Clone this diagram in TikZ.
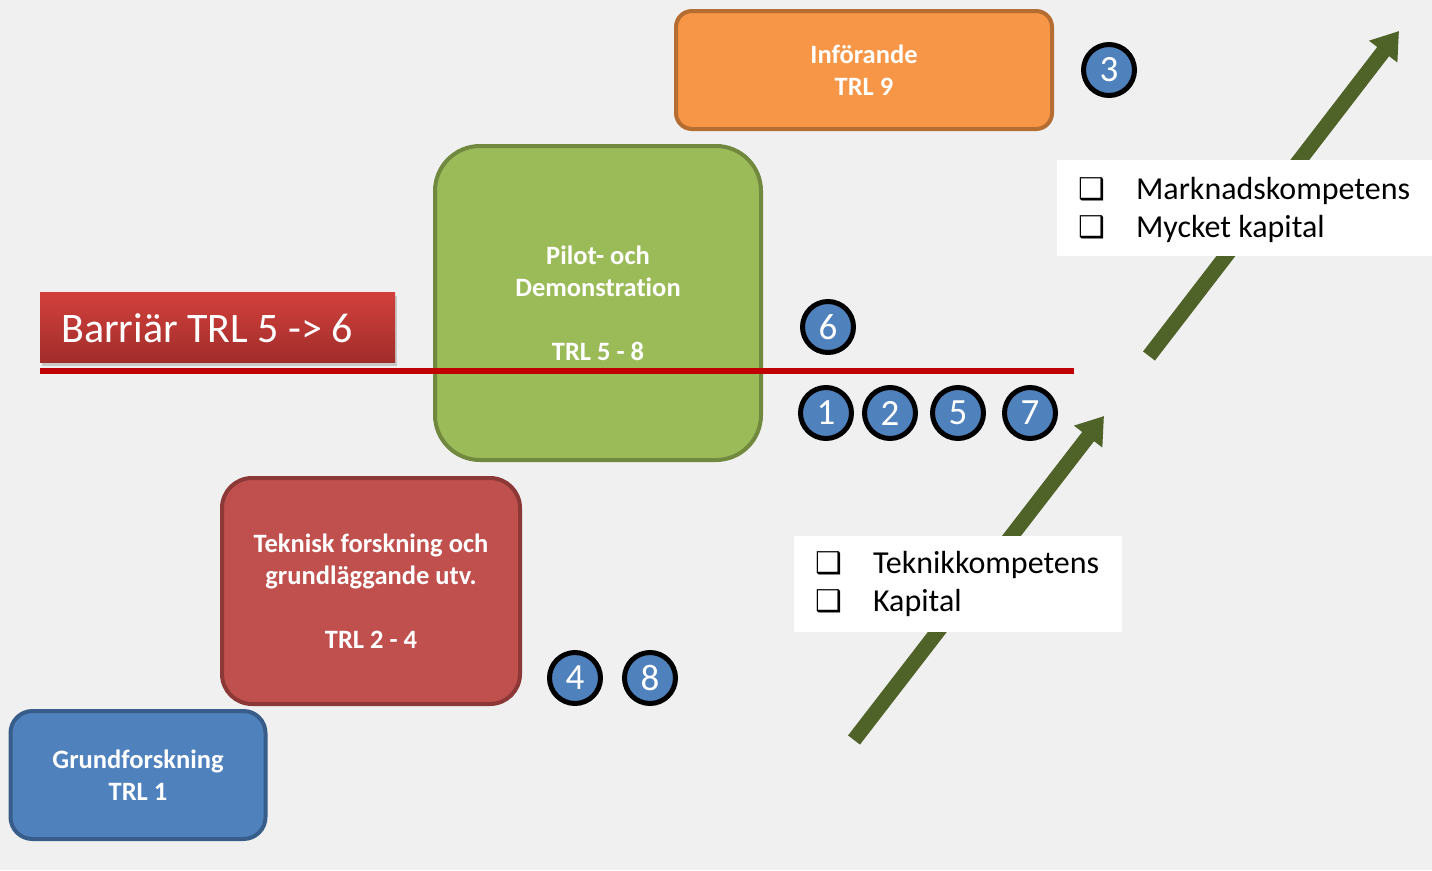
\documentclass[tikz,border=0pt]{standalone}
\usepackage{fontspec}
\setmainfont{Carlito}[Ligatures=NoCommon]
\newfontfamily\symfont{DejaVu Sans}
\usepackage{tikz}
\usetikzlibrary{arrows.meta,shapes,positioning,shadows}
\definecolor{bgc}{HTML}{F0F0F0}
\definecolor{blueF}{HTML}{4F81BD}
\definecolor{blueD}{HTML}{385D8A}
\definecolor{redF}{HTML}{C0504D}
\definecolor{redD}{HTML}{8C3836}
\definecolor{greenF}{HTML}{9BBB59}
\definecolor{greenD}{HTML}{71893F}
\definecolor{orangeF}{HTML}{F79646}
\definecolor{orangeD}{HTML}{B66D31}
\definecolor{arrowc}{HTML}{4F6228}
\definecolor{barline}{HTML}{C00000}
\definecolor{barTop}{HTML}{D2403C}
\definecolor{barBot}{HTML}{A12D2B}
\tikzstyle{phase} = [draw, rectangle, line width=4pt, text=white, align=center,
    font=\fontsize{26.5}{32}\selectfont\bfseries, inner sep=0pt]
\tikzstyle{num} = [draw=black, circle, line width=5pt, fill=blueF, text=white,
    minimum size=51pt, inner sep=0pt, font=\fontsize{37}{37}\selectfont, node distance=64pt]
\tikzstyle{bigarrow} = [draw=arrowc, line width=15pt,
    -{Triangle[length=26pt,width=34pt]}]
\tikzstyle{listbox} = [fill=white, rectangle, inner sep=0pt, align=left,
    font=\fontsize{32}{38.5}\selectfont]
\newcommand{\cb}{{\symfont\bfseries\fontsize{30}{30}\selectfont ❑}}

\begin{document}
\begin{tikzpicture}[x=1pt, y=-1pt]
  \fill [bgc] (0,0) rectangle (1432,870);
  \useasboundingbox (0,0) rectangle (1432,870);
  % phase boxes
  \node [phase, fill=orangeF, draw=orangeD, rounded corners=16pt,
    minimum width=376pt, minimum height=118pt] (trl9) at (864,70) {Införande\\TRL 9};
  \node [phase, fill=greenF, draw=greenD, rounded corners=45pt,
    minimum width=326pt, minimum height=314pt] (trl58) at (598,303)
    {Pilot- och\\Demonstration\\[32pt]TRL 5 - 8};
  \node [phase, fill=redF, draw=redD, rounded corners=30pt,
    minimum width=298pt, minimum height=226pt] (trl24) at (371,591)
    {Teknisk forskning och\\grundläggande utv.\\[32pt]TRL 2 - 4};
  \node [phase, fill=blueF, draw=blueD, rounded corners=22pt,
    minimum width=255pt, minimum height=128pt] (trl1) at (138,775) {Grundforskning\\TRL 1};
  % barrier
  \node [rectangle, top color=barTop, bottom color=barBot,
    drop shadow={shadow xshift=2pt, shadow yshift=-4pt, opacity=0.35},
    minimum width=355pt, minimum height=70pt, anchor=north west] (barr) at (40,292) {};
  \node [text=white, anchor=west, inner sep=0pt, font=\fontsize{42}{42}\selectfont]
    (barrt) at (61,328) {Barriär TRL 5 -> 6};
  \coordinate (bl) at (40,371);
  \coordinate (br) at (1074,371);
  \draw [barline, line width=6pt] (bl) -- (br);
  % numbered steps
  \node [num] (n3) at (1109,70) {3};
  \node [num] (n6) at (828,327) {6};
  \node [num] (n1) at (826,413) {1};
  \node [num, right of=n1] (n2) {2};
  \node [num, right of=n2, node distance=68pt] (n5) {5};
  \node [num, right of=n5, node distance=72pt] (n7) {7};
  \node [num] (n4) at (575,678) {4};
  \node [num, right of=n4, node distance=75pt] (n8) {8};
  % arrows
  \coordinate (a1s) at (854,740);
  \coordinate (a1e) at (1104,416);
  \coordinate (a2s) at (1149,356);
  \coordinate (a2e) at (1399,31);
  \draw [bigarrow] (a1s) -- (a1e);
  \draw [bigarrow] (a2s) -- (a2e);
  % requirement lists
  \node [listbox, minimum width=328pt, minimum height=96pt, anchor=north west] (req1) at (794,536) {};
  \node [listbox, anchor=west] (req1t) at (815,584)
    {\cb\hspace{31pt}Teknikkompetens\\\cb\hspace{31pt}Kapital};
  \node [listbox, minimum width=375pt, minimum height=96pt, anchor=north west] (req2) at (1057,160) {};
  \node [listbox, anchor=west] (req2t) at (1078,210)
    {\cb\hspace{31pt}Marknadskompetens\\\cb\hspace{31pt}Mycket kapital};
\end{tikzpicture}
\end{document}
